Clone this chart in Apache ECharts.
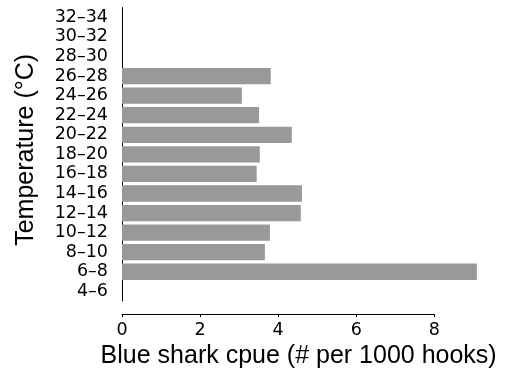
<!DOCTYPE html>
<html>
<head>
<meta charset="utf-8">
<script src="https://cdn.jsdelivr.net/npm/echarts@6/dist/echarts.min.js"></script>
<style>
html,body{margin:0;padding:0;background:#fff;}
#chart{width:508px;height:374px;}
</style>
</head>
<body>
<div id="chart"></div>
<script>
const categories = ['4–6','6–8','8–10','10–12','12–14','14–16','16–18','18–20','20–22','22–24','24–26','26–28','28–30','30–32','32–34'];
const cpue = [0, 9.09, 3.66, 3.79, 4.58, 4.61, 3.45, 3.53, 4.35, 3.51, 3.07, 3.81, 0, 0, 0];
const xTicks = [0, 2, 4, 6, 8];
const xName = 'Blue shark cpue (# per 1000 hooks)';
const yName = 'Temperature (°C)';

const titleFont = 'Liberation Sans, Arial, Helvetica, sans-serif';
const tickFont = 'DejaVu Sans, Liberation Sans, sans-serif';
const chart = echarts.init(document.getElementById('chart'), null, {renderer: 'canvas'});
chart.setOption({
  animation: false,
  backgroundColor: '#ffffff',
  grid: {left: 122, right: 73.7, top: 7.6, bottom: 72.3, containLabel: false},
  xAxis: {
    type: 'value',
    min: xTicks[0],
    max: xTicks[xTicks.length - 1],
    interval: 2,
    offset: 13,
    name: xName,
    nameLocation: 'middle',
    nameGap: 25,
    nameTextStyle: {fontSize: 25, color: '#000', fontFamily: titleFont, padding: [0, 0, 0, 41]},
    axisLine: {show: true, lineStyle: {color: '#000', width: 1}},
    axisTick: {show: true, length: 3, lineStyle: {color: '#000'}},
    axisLabel: {fontSize: 17.5, color: '#000', fontFamily: tickFont, margin: 7},
    splitLine: {show: false}
  },
  yAxis: {
    type: 'category',
    data: categories,
    boundaryGap: true,
    name: yName,
    nameLocation: 'middle',
    nameGap: 83,
    nameRotate: 90,
    nameTextStyle: {fontSize: 25, color: '#000', fontFamily: titleFont, padding: [0, 0, 0, 9]},
    axisLine: {show: true, lineStyle: {color: '#000', width: 1}},
    axisTick: {show: false},
    axisLabel: {fontSize: 17.5, color: '#000', fontFamily: tickFont, margin: 14, interval: 0},
    splitLine: {show: false}
  },
  series: [{
    type: 'bar',
    data: cpue,
    clip: false,
    barCategoryGap: '16.7%',
    itemStyle: {color: '#999999'}
  }]
});
</script>
</body>
</html>
